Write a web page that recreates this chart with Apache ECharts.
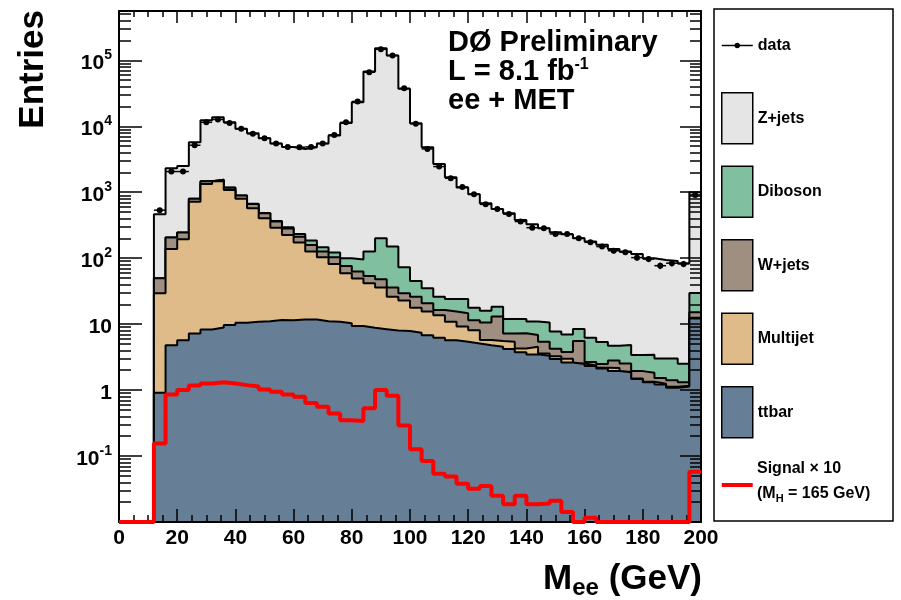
<!DOCTYPE html>
<html>
<head>
<meta charset="utf-8">
<title>M_ee ee + MET</title>
<script src="https://cdn.jsdelivr.net/npm/echarts@6.0.0/dist/echarts.min.js"></script>
<style>
html, body { margin: 0; padding: 0; background: #fff; }
#main { width: 901px; height: 600px; }
</style>
</head>
<body>
<div id="main"></div>
<script>
// bin edges (GeV), 4 GeV bins from 0 to 200
var binEdges = [0,4,8,12,16,20,24,28,32,36,40,44,48,52,56,60,64,68,72,76,80,84,88,92,96,
                100,104,108,112,116,120,124,128,132,136,140,144,148,152,156,160,164,168,172,176,180,184,188,192,196,200];

// backgrounds, one value per bin (stacked in this order, bottom first)
var ttbar = [0,0,0,0.91,4.8,5.7,7.2,8.3,8.9,9.7,10.5,10.9,11.1,11.6,11.5,11.8,11.8,11.1,10.9,10.3,9.4,8.8,8.4,8.0,7.9,
             7.4,6.8,6.2,5.7,5.4,5.1,4.8,4.55,4.2,3.74,3.48,3.32,2.95,2.63,2.48,2.31,2.13,1.94,1.86,1.47,1.31,1.22,1.09,1.13,12.2];
var multijet = [0,0,0,28.4,133,188,711,1327,1454,1075,784,562,394,278,213,161,114,92,70.6,48.7,40,32.8,27.4,18.1,14.9,
                10.4,8.7,7.5,5.2,3.8,3.0,0.93,0.98,1.2,0.55,1.07,0.28,0.3,0.35,0.05,0.05,0.05,0.22,0.03,0.03,0.03,0.03,0.03,0.03,0.3];
var wjets = [0,0,0,20.2,68,52,76,128,80,90,97,92,75,70,58,39,33,23,21.5,17,13.4,12.2,12,9.7,6.5,
             8.3,5.2,2.7,4.6,5.4,3.4,4.9,7.5,1.84,3.0,2.3,1.8,1.0,0.8,3.0,0.3,0.3,0.66,0.64,0.44,0.49,0.28,0.29,0.15,2.6];
var diboson = [0,0,0,0.3,0.5,0.6,1,1.5,2,2.5,3,3.5,4,6,12,21,26,20,18.6,23.6,33,72,152,114,43.5,
               19,14.2,9.7,8.5,9.4,6.3,5.4,5.4,4.7,4.7,4.1,5.2,3.5,3.2,2.9,3.55,2.9,1.87,2.28,1.46,1.62,1.49,1.61,1.19,14.5];
var zjets = [0,0,0,414,2100,2260,4950,10930,12150,10320,8250,7190,6120,5110,4570,4310,4630,5330,7130,11160,23100,67700,152800,118400,36900,
             11100,4790,2660,1670,1160,915,665,540,468,368,316,273,239,223,193,173,154,133,121,112,96,91,88,81,970];

// observed data
var data = [0,0,0,535,2060,2060,5160,11500,12700,11260,9140,7700,6600,5480,4870,4820,4870,5480,7400,11500,23800,66000,147000,118600,37600,
            10900,4540,2450,1630,1200,933,655,558,466,360,290,284,233,233,201,174,150,130,123,102,97,77,84,82,910];

// signal x 10 (M_H = 165 GeV)
var signal = [0,0,0,0.155,0.86,1.0,1.17,1.26,1.31,1.26,1.19,1.13,1.02,0.94,0.86,0.79,0.64,0.56,0.44,0.35,0.34,0.53,1.0,0.82,0.29,
              0.127,0.084,0.054,0.049,0.038,0.032,0.035,0.025,0.0186,0.025,0.0186,0.019,0.021,0.0142,0,0.0116,0,0,0,0,0,0,0,0,0.058];

// axis
var Y_MIN = 0.01, Y_MAX = 5.6e5;
var yLabelTicks = [0.1, 1, 10, 100, 1000, 10000, 100000];
var yMinorTicks = [];
for (var p = -2; p <= 5; p++) {
    for (var m = 2; m <= 9; m++) {
        var t = +(m * Math.pow(10, p)).toPrecision(3);
        if (t < Y_MAX) yMinorTicks.push(t);
    }
}

var FONT = '"Liberation Sans", Arial, Helvetica, sans-serif';

function stepPoints(vals, floor) {
    var pts = [];
    for (var k = 0; k < vals.length; k++) {
        pts.push([binEdges[k], vals[k] > 0 ? vals[k] : floor]);
    }
    pts.push([binEdges[vals.length], pts[pts.length - 1][1]]);
    return pts;
}

function xAxisDef(pos, major, minor, labels) {
    return {
        type: 'value', position: pos, min: 0, max: 200, interval: 20, z: 5,
        axisLine: { show: true, onZero: false, lineStyle: { color: '#000', width: 2 } },
        axisTick: { show: true, inside: true, length: major, lineStyle: { color: '#000', width: 1.5 } },
        minorTick: { show: true, splitNumber: 4, length: minor, lineStyle: { color: '#000', width: 1.5 } },
        splitLine: { show: false },
        minorSplitLine: { show: false },
        axisLabel: labels ? {
            show: true, margin: 6, color: '#000', fontFamily: FONT, fontWeight: 'bold', fontSize: 21
        } : { show: false }
    };
}

function yAxisDef(pos, ticks, len, labels, line) {
    return {
        type: 'log', logBase: 10, position: pos, min: Y_MIN, max: Y_MAX, z: 5,
        axisLine: { show: line, lineStyle: { color: '#000', width: 2 } },
        axisTick: { show: true, inside: true, length: len, customValues: ticks,
                    lineStyle: { color: '#000', width: 1.5 } },
        minorTick: { show: false },
        splitLine: { show: false },
        axisLabel: labels ? {
            show: true, margin: 7, customValues: yLabelTicks,
            formatter: function (v) {
                var n = Math.round(Math.log10(v));
                if (n === 0) return '{b|1}';
                if (n === 1) return '{b|10}';
                return '{b|10}{e|' + n + '}';
            },
            rich: {
                b: { fontFamily: FONT, fontWeight: 'bold', fontSize: 21, color: '#000', lineHeight: 24, padding: [6, 0, 0, 0] },
                e: { fontFamily: FONT, fontWeight: 'bold', fontSize: 14, color: '#000', verticalAlign: 'top', lineHeight: 14 }
            }
        } : { show: false }
    };
}

var stacks = [
    { name: 'ttbar', vals: ttbar, color: '#667f96' },
    { name: 'Multijet', vals: multijet, color: '#debb88' },
    { name: 'W+jets', vals: wjets, color: '#9f8f80' },
    { name: 'Diboson', vals: diboson, color: '#80bf9f' },
    { name: 'Z+jets', vals: zjets, color: '#e5e5e5' }
];

// cumulative sums, drawn from the top layer down (like THStack)
var running = binEdges.slice(1).map(function () { return 0; });
stacks.forEach(function (s) {
    running = running.map(function (r, k) { return r + s.vals[k]; });
    s.cum = running.slice();
});

var series = [];
for (var i = stacks.length - 1; i >= 0; i--) {
    var s = stacks[i];
    series.push({
        name: s.name, type: 'line', step: 'end',
        data: stepPoints(s.cum, 1e-4),
        symbol: 'none', showSymbol: false, z: 2 + (stacks.length - 1 - i) * 0.1,
        color: s.color,
        itemStyle: { color: s.color },
        lineStyle: { color: '#000', width: 2 },
        areaStyle: { color: s.color, opacity: 1, origin: 'start' },
        emphasis: { disabled: true },
        silent: true
    });
}

series.push({
    name: 'Signal', type: 'line', step: 'end',
    data: stepPoints(signal, Y_MIN),
    symbol: 'none', showSymbol: false, z: 7, clip: false,
    color: '#ff0000',
    itemStyle: { color: '#ff0000' },
    lineStyle: { color: '#ff0000', width: 4 },
    emphasis: { disabled: true },
    silent: true
});

var dataItems = [];
for (var k = 0; k < data.length; k++) {
    if (data[k] > 0) dataItems.push([binEdges[k], binEdges[k + 1], data[k], Math.sqrt(data[k])]);
}

series.push({
    name: 'data', type: 'custom', z: 8, silent: true,
    itemStyle: { color: '#000' },
    encode: { x: [0, 1], y: 2 },
    data: dataItems,
    renderItem: function (params, api) {
        var x0 = api.value(0), x1 = api.value(1), v = api.value(2), e = api.value(3);
        var xm = (x0 + x1) / 2;
        var pl = api.coord([x0, v]), pr = api.coord([x1, v]);
        var pc = api.coord([xm, v]);
        var pt = api.coord([xm, v + e]), pb = api.coord([xm, Math.max(v - e, Y_MIN)]);
        var st = { stroke: '#000', lineWidth: 1.5 };
        return {
            type: 'group',
            children: [
                { type: 'line', shape: { x1: pl[0], y1: pl[1], x2: pr[0], y2: pr[1] }, style: st },
                { type: 'line', shape: { x1: pc[0], y1: pt[1], x2: pc[0], y2: pb[1] }, style: st },
                { type: 'circle', shape: { cx: pc[0], cy: pc[1], r: 3 }, style: { fill: '#000' } }
            ]
        };
    }
});

var BOX = { borderColor: '#000', borderWidth: 1.5 };
var DATA_ICON = 'path://M0,0M31,51M0,24.7L31,24.7L31,26.3L0,26.3ZM12.8,25.5A2.7,2.7,0,1,1,18.2,25.5A2.7,2.7,0,1,1,12.8,25.5Z';
var SIG_ICON = 'path://M0,0M31,51M0,23.5L31,23.5L31,27.5L0,27.5Z';

var option = {
    animation: false,
    backgroundColor: '#fff',
    grid: { left: 119, right: 200, top: 11, bottom: 78, outerBoundsMode: 'none', containLabel: false },
    xAxis: [
        xAxisDef('bottom', 13, 7, true),
        xAxisDef('top', 12, 6, false)
    ],
    yAxis: [
        yAxisDef('left', yLabelTicks, 23, true, true),
        yAxisDef('left', yMinorTicks, 12, false, false),
        yAxisDef('right', yLabelTicks, 21, false, true),
        yAxisDef('right', yMinorTicks, 11, false, false)
    ],
    legend: {
        orient: 'vertical', left: 716, top: 15,
        itemWidth: 31, itemHeight: 51, itemGap: 21,
        selectedMode: false, z: 7,
        textStyle: { fontFamily: FONT, fontWeight: 'bold', fontSize: 16, color: '#000' },
        data: [
            { name: 'data', icon: DATA_ICON, itemStyle: { borderWidth: 0 } },
            { name: 'Z+jets', icon: 'rect', itemStyle: BOX },
            { name: 'Diboson', icon: 'rect', itemStyle: BOX },
            { name: 'W+jets', icon: 'rect', itemStyle: BOX },
            { name: 'Multijet', icon: 'rect', itemStyle: BOX },
            { name: 'ttbar', icon: 'rect', itemStyle: BOX },
            { name: 'Signal', icon: SIG_ICON, itemStyle: { borderWidth: 0 } }
        ],
        formatter: function (name) {
            // the two-line signal label is placed as text below
            return name === 'Signal' ? '' : name;
        }
    },
    graphic: [
        { type: 'rect', shape: { x: 714, y: 9, width: 179, height: 512 },
          style: { fill: 'none', stroke: '#000', lineWidth: 1.5 }, z: 1, silent: true },
        { type: 'text', x: 757, y: 469, z: 9, silent: true,
          style: { text: 'Signal \u00d7 10', font: 'bold 16px ' + FONT, fill: '#000', verticalAlign: 'middle' } },
        { type: 'text', x: 757, y: 494, z: 9, silent: true,
          style: { text: '{a|(M}{s|H}{a| = 165 GeV)}', verticalAlign: 'middle',
                   rich: {
                       a: { fontFamily: FONT, fontWeight: 'bold', fontSize: 16, fill: '#000', lineHeight: 20 },
                       s: { fontFamily: FONT, fontWeight: 'bold', fontSize: 11, fill: '#000', verticalAlign: 'bottom', lineHeight: 11 }
                   } } },
        { type: 'text', x: 448, y: 43, z: 9, silent: true,
          style: { text: 'D\u00d8 Preliminary', font: 'bold 29px ' + FONT, fill: '#000', verticalAlign: 'middle' } },
        { type: 'text', x: 448, y: 72, z: 9, silent: true,
          style: { text: '{a|L = 8.1 fb}{e|-1}', verticalAlign: 'middle',
                   rich: {
                       a: { fontFamily: FONT, fontWeight: 'bold', fontSize: 29, fill: '#000', lineHeight: 30 },
                       e: { fontFamily: FONT, fontWeight: 'bold', fontSize: 16, fill: '#000', verticalAlign: 'top', lineHeight: 16 }
                   } } },
        { type: 'text', x: 448, y: 101, z: 9, silent: true,
          style: { text: 'ee + MET', font: 'bold 29px ' + FONT, fill: '#000', verticalAlign: 'middle' } },
        { type: 'text', x: 33, y: 10, rotation: Math.PI / 2, z: 9, silent: true,
          style: { text: 'Entries', font: 'bold 35px ' + FONT, fill: '#000', align: 'right', verticalAlign: 'middle' } },
        { type: 'text', x: 702, y: 579, z: 9, silent: true,
          style: { text: '{m|M}{s|ee}{m| (GeV)}', align: 'right', verticalAlign: 'middle',
                   rich: {
                       m: { fontFamily: FONT, fontWeight: 'bold', fontSize: 35, fill: '#000', lineHeight: 43 },
                       s: { fontFamily: FONT, fontWeight: 'bold', fontSize: 24, fill: '#000', verticalAlign: 'bottom', lineHeight: 24 }
                   } } }
    ],
    series: series
};

var chart = echarts.init(document.getElementById('main'));
chart.setOption(option);
</script>
</body>
</html>
